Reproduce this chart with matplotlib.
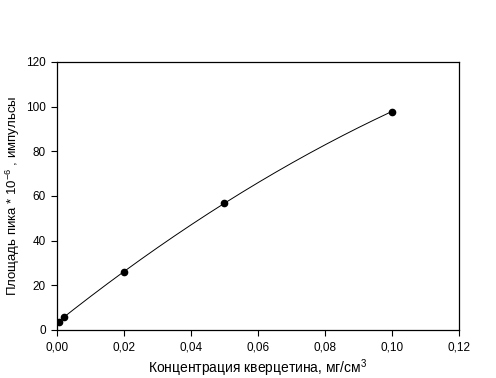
import matplotlib
matplotlib.use("Agg")
import matplotlib.pyplot as plt
import numpy as np

plt.rcParams["font.family"] = ["Liberation Sans", "DejaVu Sans"]
plt.rcParams["mathtext.fontset"] = "custom"
plt.rcParams["mathtext.rm"] = "Liberation Sans"
plt.rcParams["mathtext.it"] = "Liberation Sans"

# measured points
conc = [0.0005, 0.002, 0.02, 0.05, 0.1]
area = [3.8, 6.0, 25.9, 56.9, 97.8]

x_ticks = [0.0, 0.02, 0.04, 0.06, 0.08, 0.10, 0.12]
x_tick_labels = ["0,00", "0,02", "0,04", "0,06", "0,08", "0,10", "0,12"]
y_ticks = [0, 20, 40, 60, 80, 100, 120]

# regression curve (quadratic fit of the measured points)
coef = np.polyfit(conc, area, 2)
xs = np.linspace(0.0, max(conc), 200)
ys = np.polyval(coef, xs)

fig = plt.figure(figsize=(4.96, 3.78), dpi=100)
ax = fig.add_axes([0.115, 0.127, 0.81, 0.709])

ax.plot(xs, ys, color="black", linewidth=0.7)
ax.plot(conc, area, "o", color="black", markersize=4.5)

ax.set_xlim(0, 0.12)
ax.set_ylim(0, 120)
ax.set_xticks(x_ticks)
ax.set_xticklabels(x_tick_labels)
ax.set_yticks(y_ticks)
ax.tick_params(direction="out", length=4, width=0.8, labelsize=8.5, pad=4,
               top=False, right=False)
for s in ax.spines.values():
    s.set_linewidth(0.9)

ax.set_xlabel("Концентрация кверцетина, мг/см$^3$", fontsize=10, labelpad=3)
ax.set_ylabel("Площадь пика * 10$^{-6}$ , импульсы", fontsize=9.5, labelpad=3)

fig.savefig("out.png", dpi=100)
